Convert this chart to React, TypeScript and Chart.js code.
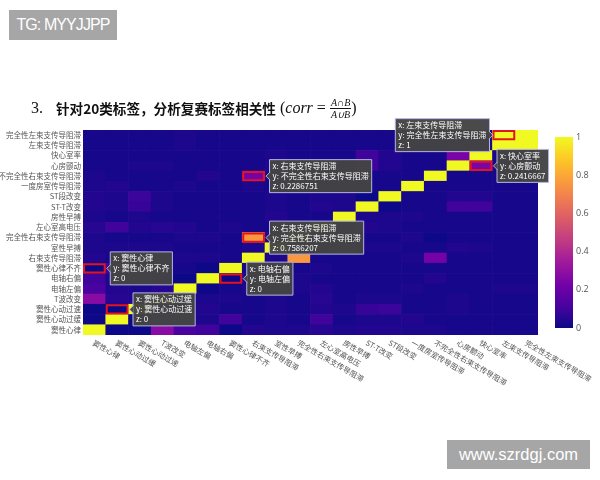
import React, { useEffect, useRef } from "react";
import { Chart, registerables } from "chart.js";
Chart.register(...registerables);

// categories: left-to-right on x, bottom-to-top on y
const categories = [
  "窦性心律", "窦性心动过缓", "窦性心动过速", "T波改变", "电轴左偏", "电轴右偏",
  "窦性心律不齐", "右束支传导阻滞", "室性早搏", "完全性右束支传导阻滞", "左心室高电压",
  "房性早搏", "ST-T改变", "ST段改变", "一度房室传导阻滞", "不完全性右束支传导阻滞",
  "心房颤动", "快心室率", "左束支传导阻滞", "完全性左束支传导阻滞",
];

// one row per y category (bottom to top); entries follow the x categories
const z窦性心律 = [1, 0, 0, 0.28, 0.12, 0.1, 0, 0.04, 0.03, 0.03, 0.05, 0.03, 0.04, 0.04, 0.03, 0.03, 0.02, 0.02, 0.02, 0.02];
const z窦性心动过缓 = [0, 1, 0, 0.05, 0.04, 0.03, 0.1, 0.02, 0.03, 0.02, 0.1, 0.02, 0.03, 0.03, 0.04, 0.02, 0.02, 0.02, 0.02, 0.02];
const z窦性心动过速 = [0, 0, 1, 0.04, 0.03, 0.04, 0.02, 0.02, 0.03, 0.02, 0.04, 0.03, 0.08, 0.09, 0.02, 0.02, 0.03, 0.02, 0.02, 0.02];
const zT波改变 = [0.28, 0.05, 0.04, 1, 0.05, 0.03, 0.03, 0.02, 0.03, 0.02, 0.05, 0.02, 0.03, 0.03, 0.02, 0.02, 0.03, 0.02, 0.02, 0.02];
const z电轴左偏 = [0.12, 0.04, 0.03, 0.05, 1, 0, 0.02, 0.03, 0.02, 0.03, 0.04, 0.02, 0.02, 0.02, 0.03, 0.02, 0.02, 0.02, 0.03, 0.03];
const z电轴右偏 = [0.1, 0.03, 0.04, 0.03, 0, 1, 0, 0.03, 0.02, 0.03, 0.02, 0.02, 0.02, 0.02, 0.02, 0.04, 0.02, 0.02, 0.02, 0.02];
const z窦性心律不齐 = [0, 0.1, 0.02, 0.03, 0.02, 0, 1, 0.02, 0.02, 0.02, 0.03, 0.02, 0.02, 0.02, 0.02, 0.02, 0.02, 0.02, 0.02, 0.02];
const z右束支传导阻滞 = [0.04, 0.02, 0.02, 0.02, 0.03, 0.03, 0.02, 1, 0.03, 0.7586207, 0.02, 0.02, 0.02, 0.02, 0.03, 0.2286751, 0.02, 0.02, 0.02, 0.02];
const z室性早搏 = [0.03, 0.03, 0.03, 0.03, 0.02, 0.02, 0.02, 0.03, 1, 0.03, 0.02, 0.04, 0.03, 0.03, 0.02, 0.02, 0.04, 0.03, 0.02, 0.02];
const z完全性右束支传导阻滞 = [0.03, 0.02, 0.02, 0.02, 0.03, 0.03, 0.02, 0.7586207, 0.03, 1, 0.02, 0.02, 0.02, 0.02, 0.03, 0, 0.02, 0.02, 0.02, 0.02];
const z左心室高电压 = [0.05, 0.1, 0.04, 0.05, 0.04, 0.02, 0.03, 0.02, 0.02, 0.02, 1, 0.02, 0.04, 0.03, 0.02, 0.02, 0.02, 0.02, 0.02, 0.02];
const z房性早搏 = [0.03, 0.02, 0.03, 0.02, 0.02, 0.02, 0.02, 0.02, 0.04, 0.02, 0.02, 1, 0.03, 0.03, 0.03, 0.02, 0.02, 0.02, 0.02, 0.02];
const zST_T改变 = [0.04, 0.03, 0.08, 0.03, 0.02, 0.02, 0.02, 0.02, 0.03, 0.02, 0.04, 0.03, 1, 0, 0.02, 0.02, 0.1, 0.1, 0.02, 0.02];
const zST段改变 = [0.04, 0.03, 0.09, 0.03, 0.02, 0.02, 0.02, 0.02, 0.03, 0.02, 0.03, 0.03, 0, 1, 0.02, 0.02, 0.04, 0.04, 0.02, 0.02];
const z一度房室传导阻滞 = [0.03, 0.04, 0.02, 0.02, 0.03, 0.02, 0.02, 0.03, 0.02, 0.03, 0.02, 0.03, 0.02, 0.02, 1, 0.02, 0.02, 0.02, 0.02, 0.02];
const z不完全性右束支传导阻滞 = [0.03, 0.02, 0.02, 0.02, 0.02, 0.04, 0.02, 0.2286751, 0.02, 0, 0.02, 0.02, 0.02, 0.02, 0.02, 1, 0.02, 0.02, 0.02, 0.02];
const z心房颤动 = [0.02, 0.02, 0.03, 0.03, 0.02, 0.02, 0.02, 0.02, 0.04, 0.02, 0.02, 0.02, 0.1, 0.04, 0.02, 0.02, 1, 0.2416667, 0.02, 0.02];
const z快心室率 = [0.02, 0.02, 0.02, 0.02, 0.02, 0.02, 0.02, 0.02, 0.03, 0.02, 0.02, 0.02, 0.1, 0.04, 0.02, 0.02, 0.2416667, 1, 0.02, 0.02];
const z左束支传导阻滞 = [0.02, 0.02, 0.02, 0.02, 0.03, 0.02, 0.02, 0.02, 0.02, 0.02, 0.02, 0.02, 0.02, 0.02, 0.02, 0.02, 0.02, 0.02, 1, 1];
const z完全性左束支传导阻滞 = [0.02, 0.02, 0.02, 0.02, 0.03, 0.02, 0.02, 0.02, 0.02, 0.02, 0.02, 0.02, 0.02, 0.02, 0.02, 0.02, 0.02, 0.02, 1, 1];

const zRows = [
  z窦性心律, z窦性心动过缓, z窦性心动过速, zT波改变, z电轴左偏, z电轴右偏, z窦性心律不齐,
  z右束支传导阻滞, z室性早搏, z完全性右束支传导阻滞, z左心室高电压, z房性早搏, zST_T改变,
  zST段改变, z一度房室传导阻滞, z不完全性右束支传导阻滞, z心房颤动, z快心室率,
  z左束支传导阻滞, z完全性左束支传导阻滞,
];

const colorbarTicks = [0, 0.2, 0.4, 0.6, 0.8, 1];
const plasmaStops = ["#0d0887", "#46039f", "#7201a8", "#9c179e", "#bd3786", "#d8576b", "#ed7953", "#fb9f3a", "#fdca26", "#f0f921"];

// hover-label annotations: cell (x index, y index), text lines, side of the box
const notes = [
  { xi: 7, yi: 15, lines: ["x: 右束支传导阻滞", "y: 不完全性右束支传导阻滞", "z: 0.2286751"], side: "right" },
  { xi: 7, yi: 9, lines: ["x: 右束支传导阻滞", "y: 完全性右束支传导阻滞", "z: 0.7586207"], side: "right" },
  { xi: 0, yi: 6, lines: ["x: 窦性心律", "y: 窦性心律不齐", "z: 0"], side: "right" },
  { xi: 1, yi: 2, lines: ["x: 窦性心动过缓", "y: 窦性心动过速", "z: 0"], side: "right" },
  { xi: 6, yi: 5, lines: ["x: 电轴右偏", "y: 电轴左偏", "z: 0"], side: "right" },
  { xi: 18, yi: 19, lines: ["x: 左束支传导阻滞", "y: 完全性左束支传导阻滞", "z: 1"], side: "left" },
  { xi: 17, yi: 16, lines: ["x: 快心室率", "y: 心房颤动", "z: 0.2416667"], side: "right" },
];

const CJK = '"Noto Sans CJK SC", "Noto Sans", sans-serif';

function hexRgb(h: string) {
  return [parseInt(h.slice(1, 3), 16), parseInt(h.slice(3, 5), 16), parseInt(h.slice(5, 7), 16)];
}
function plasma(v: number) {
  const n = plasmaStops.length;
  const t = Math.max(0, Math.min(1, v)) * (n - 1);
  const k = Math.min(Math.floor(t), n - 2);
  const f = t - k;
  const a = hexRgb(plasmaStops[k]);
  const b = hexRgb(plasmaStops[k + 1]);
  const c = a.map((x, i) => Math.round(x + (b[i] - x) * f));
  return `rgb(${c[0]},${c[1]},${c[2]})`;
}

const overlayPlugin = {
  id: "overlay",
  afterDraw(chart: any) {
    const ctx: CanvasRenderingContext2D = chart.ctx;
    const xs = chart.scales.x;
    const ys = chart.scales.y;
    const cs = chart.scales.cb;
    const half = (xs.getPixelForValue(1) - xs.getPixelForValue(0)) / 2;

    // x tick labels, rotated down-right
    ctx.save();
    ctx.font = `7.5px ${CJK}`;
    ctx.fillStyle = "#555";
    ctx.textAlign = "left";
    ctx.textBaseline = "middle";
    categories.forEach((lab, i) => {
      const cx = xs.getPixelForValue(i);
      ctx.save();
      ctx.translate(cx - 1, ys.bottom + 7);
      ctx.rotate(Math.PI / 6);
      ctx.fillText(lab, 0, 0);
      ctx.restore();
    });
    ctx.restore();

    // colorbar
    const top = cs.getPixelForValue(1);
    const bot = cs.getPixelForValue(0);
    const g = ctx.createLinearGradient(0, bot, 0, top);
    plasmaStops.forEach((c, k) => g.addColorStop(k / (plasmaStops.length - 1), c));
    ctx.fillStyle = g;
    ctx.fillRect(cs.left + 17, top, 18, bot - top);

    // red boxes
    ctx.save();
    ctx.strokeStyle = "#e3141d";
    ctx.lineWidth = 2;
    notes.forEach((n) => {
      const cx = xs.getPixelForValue(n.xi);
      const y0 = ys.getPixelForValue(n.yi + 1);
      const y1 = ys.getPixelForValue(n.yi);
      ctx.strokeRect(cx - half + 1, y0 + 1, 2 * half - 2, y1 - y0 - 2);
    });
    ctx.restore();

    // hover labels
    ctx.save();
    ctx.font = `8px ${CJK}`;
    notes.forEach((n) => {
      const cx = xs.getPixelForValue(n.xi);
      const cy = (ys.getPixelForValue(n.yi) + ys.getPixelForValue(n.yi + 1)) / 2;
      const w = Math.max(...n.lines.map((l) => ctx.measureText(l).width)) + 6;
      const h = 33;
      const bx = n.side === "right" ? cx + half + 4.5 : cx - half - 3 - w;
      const by = cy - h / 2;
      ctx.fillStyle = "rgba(68,68,68,0.97)";
      ctx.strokeStyle = "#b4b4e4";
      ctx.lineWidth = 1;
      ctx.beginPath();
      ctx.rect(bx, by, w, h);
      ctx.fill();
      ctx.stroke();
      // pointer
      ctx.beginPath();
      if (n.side === "right") {
        ctx.moveTo(bx + 0.5, cy - 4);
        ctx.lineTo(bx - 3.5, cy);
        ctx.lineTo(bx + 0.5, cy + 4);
      } else {
        ctx.moveTo(bx + w - 0.5, cy - 4);
        ctx.lineTo(bx + w + 3.5, cy);
        ctx.lineTo(bx + w - 0.5, cy + 4);
      }
      ctx.fill();
      ctx.stroke();
      ctx.fillStyle = "#ffffff";
      ctx.textAlign = "left";
      ctx.textBaseline = "middle";
      n.lines.forEach((l, k) => ctx.fillText(l, bx + 3, by + 6.5 + k * 10));
    });
    ctx.restore();
  },
};

export default function App() {
  const ref = useRef<HTMLCanvasElement>(null);
  useEffect(() => {
    const chart = new Chart(ref.current as HTMLCanvasElement, {
      type: "bar",
      data: {
        labels: categories,
        datasets: zRows.map((row, j) => ({
          label: categories[j],
          data: categories.map(() => [j, j + 1]),
          backgroundColor: row.map(plasma),
          borderWidth: 0,
          barPercentage: 1,
          categoryPercentage: 1,
          grouped: false,
        })) as any,
      },
      options: {
        animation: false,
        responsive: false,
        layout: { padding: { top: 130, left: 0, right: 0, bottom: 0 } },
        plugins: { legend: { display: false }, tooltip: { enabled: false } },
        scales: {
          x: {
            type: "category",
            grid: { display: false, drawTicks: false },
            border: { display: false },
            ticks: { display: false },
            afterFit: (s: any) => { s.height = 145; },
          },
          y: {
            type: "linear",
            min: 0,
            max: 20,
            grid: { display: false, drawTicks: false },
            border: { display: false },
            afterBuildTicks: (s: any) => { s.ticks = categories.map((_, k) => ({ value: k + 0.5 })); },
            ticks: {
              autoSkip: false,
              padding: 2,
              color: "#555",
              font: { family: CJK, size: 7.5 },
              callback: (_v: any, i: number) => categories[i],
            },
            afterFit: (s: any) => { s.width = 83; },
          },
          cb: {
            type: "linear",
            position: "right",
            axis: "y",
            min: -0.0366,
            max: 1.0366,
            grid: { display: false, drawTicks: false },
            border: { display: false },
            afterBuildTicks: (s: any) => { s.ticks = colorbarTicks.map((v) => ({ value: v })); },
            ticks: {
              autoSkip: false,
              padding: 38,
              color: "#555",
              font: { family: '"Open Sans", sans-serif', size: 9 },
              callback: (v: any) => String(v),
            },
            afterFit: (s: any) => { s.width = 62; },
          },
        } as any,
      },
      plugins: [overlayPlugin],
    });
    return () => chart.destroy();
  }, []);

  return (
    <div style={{ position: "fixed", left: 0, top: 0, width: 600, height: 480, background: "#fff", overflow: "hidden" }}>
      <canvas ref={ref} width={600} height={480} style={{ position: "absolute", left: 0, top: 0 }} />
      <div style={{ position: "absolute", left: 9, top: 10, width: 108, height: 30, background: "#a6a6a6", color: "#fff", font: '16px "Liberation Sans", sans-serif', letterSpacing: "-0.9px", lineHeight: "30px", textAlign: "center" }}>
        TG: MYYJJPP
      </div>
      <div style={{ position: "absolute", left: 447, top: 440, width: 143, height: 29, background: "#a6a6a6", color: "#fff", font: '16.5px "Liberation Sans", sans-serif', lineHeight: "29px", textAlign: "center" }}>
        www.szrdgj.com
      </div>
      <div style={{ position: "absolute", left: 31, top: 93, height: 30, display: "flex", alignItems: "center", whiteSpace: "nowrap", color: "#111" }}>
        <span style={{ font: '16px "Liberation Serif", serif', marginRight: 13 }}>3.</span>
        <span style={{ font: `bold 13.6px ${CJK}` }}>针对20类标签，分析复赛标签相关性</span>
        <span style={{ font: '16px "Liberation Serif", serif', marginLeft: 4 }}>(</span>
        <span style={{ font: 'italic 16px "Liberation Serif", serif' }}>corr</span>
        <span style={{ font: '16px "Liberation Serif", serif', margin: "0 4px" }}>=</span>
        <span style={{ display: "inline-flex", flexDirection: "column", alignItems: "center", font: 'italic 10px "Liberation Serif", serif', lineHeight: "11px" }}>
          <span style={{ padding: "0 1px" }}>A∩B</span>
          <span style={{ borderTop: "1px solid #111", padding: "0 1px" }}>A∪B</span>
        </span>
        <span style={{ font: '16px "Liberation Serif", serif' }}>)</span>
      </div>
    </div>
  );
}
